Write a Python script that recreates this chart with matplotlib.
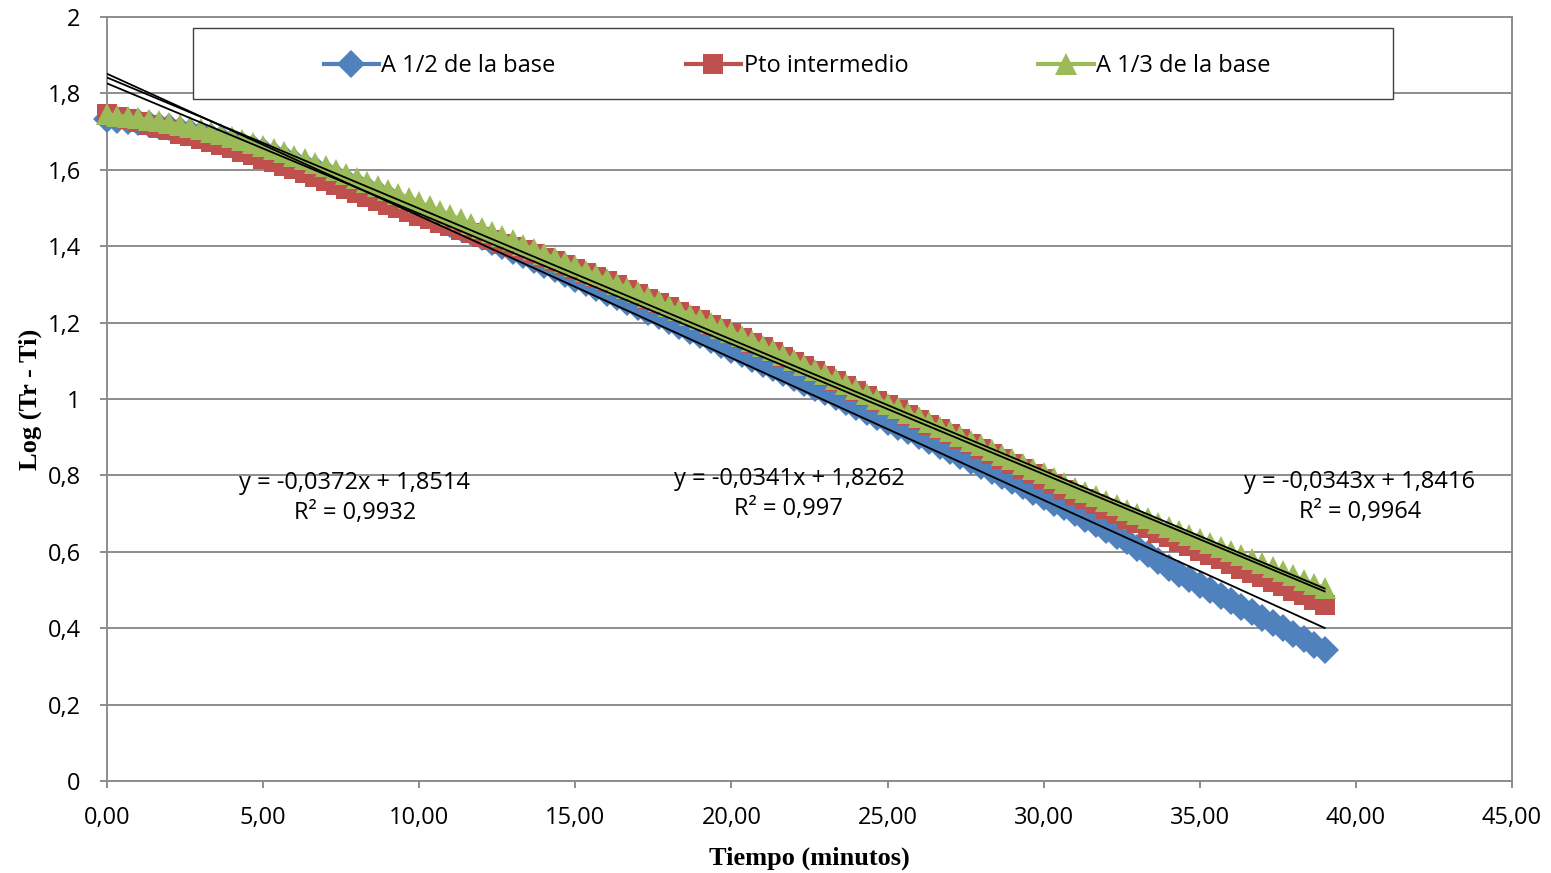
import numpy as np
import matplotlib
matplotlib.use('Agg')
import matplotlib.pyplot as plt
from matplotlib.patches import Rectangle
from matplotlib.ticker import FuncFormatter, MultipleLocator

# one reading every 20 seconds, 0 to 39 min
tiempo = np.arange(0, 2341, 20) / 60

mitad_base = [
    1.733, 1.730, 1.727, 1.724, 1.720, 1.715, 1.711, 1.705, 1.700, 1.694, 1.687, 1.680,
    1.673, 1.665, 1.656, 1.648, 1.639, 1.630, 1.621, 1.611, 1.602, 1.592, 1.582, 1.571,
    1.561, 1.550, 1.539, 1.528, 1.516, 1.505, 1.493, 1.482, 1.470, 1.459, 1.447, 1.436,
    1.424, 1.412, 1.400, 1.388, 1.376, 1.364, 1.352, 1.340, 1.327, 1.315, 1.303, 1.290,
    1.278, 1.266, 1.253, 1.241, 1.229, 1.216, 1.204, 1.192, 1.179, 1.167, 1.154, 1.142,
    1.129, 1.117, 1.104, 1.092, 1.080, 1.067, 1.055, 1.043, 1.030, 1.018, 1.005, 0.993,
    0.980, 0.967, 0.954, 0.941, 0.928, 0.916, 0.903, 0.890, 0.877, 0.864, 0.851, 0.838,
    0.825, 0.812, 0.798, 0.785, 0.771, 0.757, 0.743, 0.729, 0.716, 0.702, 0.687, 0.673,
    0.658, 0.642, 0.627, 0.611, 0.593, 0.575, 0.557, 0.542, 0.528, 0.513, 0.499, 0.484,
    0.470, 0.456, 0.442, 0.428, 0.414, 0.400, 0.386, 0.372, 0.357, 0.343]

intermedio = [
    1.745, 1.738, 1.732, 1.725, 1.718, 1.710, 1.703, 1.695, 1.688, 1.680, 1.672, 1.664,
    1.656, 1.647, 1.638, 1.629, 1.620, 1.610, 1.601, 1.591, 1.581, 1.571, 1.560, 1.550,
    1.539, 1.529, 1.519, 1.509, 1.499, 1.490, 1.480, 1.471, 1.461, 1.452, 1.443, 1.434,
    1.425, 1.416, 1.407, 1.398, 1.389, 1.379, 1.370, 1.360, 1.351, 1.341, 1.330, 1.320,
    1.309, 1.298, 1.286, 1.275, 1.263, 1.252, 1.240, 1.229, 1.217, 1.206, 1.195, 1.183,
    1.172, 1.160, 1.147, 1.135, 1.123, 1.110, 1.098, 1.086, 1.073, 1.061, 1.048, 1.035,
    1.022, 1.009, 0.996, 0.983, 0.971, 0.958, 0.946, 0.933, 0.921, 0.908, 0.895, 0.882,
    0.869, 0.856, 0.843, 0.830, 0.817, 0.803, 0.790, 0.777, 0.763, 0.750, 0.737, 0.725,
    0.712, 0.700, 0.687, 0.675, 0.663, 0.650, 0.638, 0.626, 0.615, 0.603, 0.591, 0.580,
    0.568, 0.556, 0.545, 0.533, 0.521, 0.510, 0.498, 0.486, 0.473, 0.461]

tercio_base = [
    1.745, 1.742, 1.738, 1.735, 1.731, 1.727, 1.723, 1.718, 1.712, 1.707, 1.700, 1.693,
    1.686, 1.678, 1.671, 1.663, 1.654, 1.646, 1.637, 1.628, 1.618, 1.609, 1.599, 1.588,
    1.578, 1.568, 1.557, 1.547, 1.536, 1.526, 1.515, 1.504, 1.492, 1.481, 1.470, 1.459,
    1.448, 1.437, 1.426, 1.415, 1.403, 1.392, 1.380, 1.369, 1.358, 1.347, 1.336, 1.324,
    1.313, 1.302, 1.290, 1.279, 1.267, 1.256, 1.244, 1.233, 1.221, 1.210, 1.199, 1.187,
    1.176, 1.164, 1.151, 1.139, 1.127, 1.114, 1.102, 1.090, 1.077, 1.065, 1.052, 1.039,
    1.026, 1.013, 1.001, 0.988, 0.976, 0.964, 0.952, 0.940, 0.928, 0.916, 0.904, 0.891,
    0.879, 0.867, 0.854, 0.842, 0.830, 0.817, 0.805, 0.793, 0.780, 0.768, 0.756, 0.745,
    0.733, 0.722, 0.710, 0.699, 0.688, 0.676, 0.665, 0.654, 0.644, 0.633, 0.622, 0.612,
    0.601, 0.591, 0.580, 0.570, 0.559, 0.549, 0.538, 0.527, 0.516, 0.505]

nombres = ['A 1/2 de la base', 'Pto intermedio', 'A 1/3 de la base']
colores = ['#4F81BD', '#C0504D', '#9BBB59']
marcadores = ['D', 's', '^']
tam_marc = [14, 14, 16]

# linear trendlines as reported on the chart
pendientes = [-0.0372, -0.0341, -0.0343]
ordenadas = [1.8514, 1.8262, 1.8416]
r2 = ['0,9932', '0,997', '0,9964']

fuente = 'Open Sans'
fig = plt.figure(figsize=(15.51, 8.73), dpi=100)
ax = fig.add_axes([107/1551, 1-781/873, 1405/1551, 764/873])

series = [mitad_base, intermedio, tercio_base]
for y, nom, col, mk, ms in zip(series, nombres, colores, marcadores, tam_marc):
    ax.plot(tiempo, y, color=col, marker=mk, markersize=ms, markeredgewidth=0,
            linewidth=3, label=nom, zorder=3, clip_on=False)

# trendlines
for m, b in zip(pendientes, ordenadas):
    xs = np.array([tiempo[0], tiempo[-1]])
    ax.plot(xs, m*xs + b, color='black', linewidth=1.3, zorder=4)

etiq_x = [7.94, 21.84, 40.13]
etiq_y = [0.741, 0.751, 0.743]
for m, b, r, ex, ey in zip(pendientes, ordenadas, r2, etiq_x, etiq_y):
    txt = f'y = {m:.4f}x + {b:.4f}'.replace('.', ',') + f'\nR² = {r}'
    ax.text(ex, ey, txt, ha='center', va='center', multialignment='center',
            fontsize=17, family=fuente, linespacing=1.3, zorder=5)

ax.set_xlim(0, 45)
ax.set_ylim(0, 2)
ax.xaxis.set_major_locator(MultipleLocator(5))
ax.yaxis.set_major_locator(MultipleLocator(0.2))
ax.xaxis.set_major_formatter(FuncFormatter(lambda v, p: f'{v:.2f}'.replace('.', ',')))
ax.yaxis.set_major_formatter(FuncFormatter(lambda v, p: f'{v:g}'.replace('.', ',')))

ax.yaxis.grid(True, color='#8C8C8C', linewidth=1.4)
ax.set_axisbelow(True)
for s in ax.spines.values():
    s.set_color('#8C8C8C')
    s.set_linewidth(1.4)
ax.tick_params(direction='out', length=5, width=1.4, color='#8C8C8C', labelsize=17)
ax.tick_params(axis='x', pad=13)
ax.tick_params(axis='y', pad=14)
for lab in ax.get_xticklabels() + ax.get_yticklabels():
    lab.set_family(fuente)

ax.set_xlabel('Tiempo (minutos)', family='Liberation Serif', fontweight='bold', fontsize=19, labelpad=12)
ax.set_ylabel('Log (Tr - Ti)', family='Liberation Serif', fontweight='bold', fontsize=19, labelpad=4)

# legend box
caja = Rectangle((193/1551, 1-99/873), 1200/1551, 71/873, transform=fig.transFigure,
                 facecolor='white', edgecolor='#404040', linewidth=1.0, zorder=2.5)
ax.add_patch(caja)
leg = ax.legend(ncol=3, loc='center', bbox_to_anchor=(797/1551, 1-66/873),
                bbox_transform=fig.transFigure, frameon=False, handlelength=2.35,
                handletextpad=0.1, columnspacing=5.5, prop={'family': fuente, 'size': 17})
leg.set_zorder(6)

fig.savefig('out.png', dpi=100)
